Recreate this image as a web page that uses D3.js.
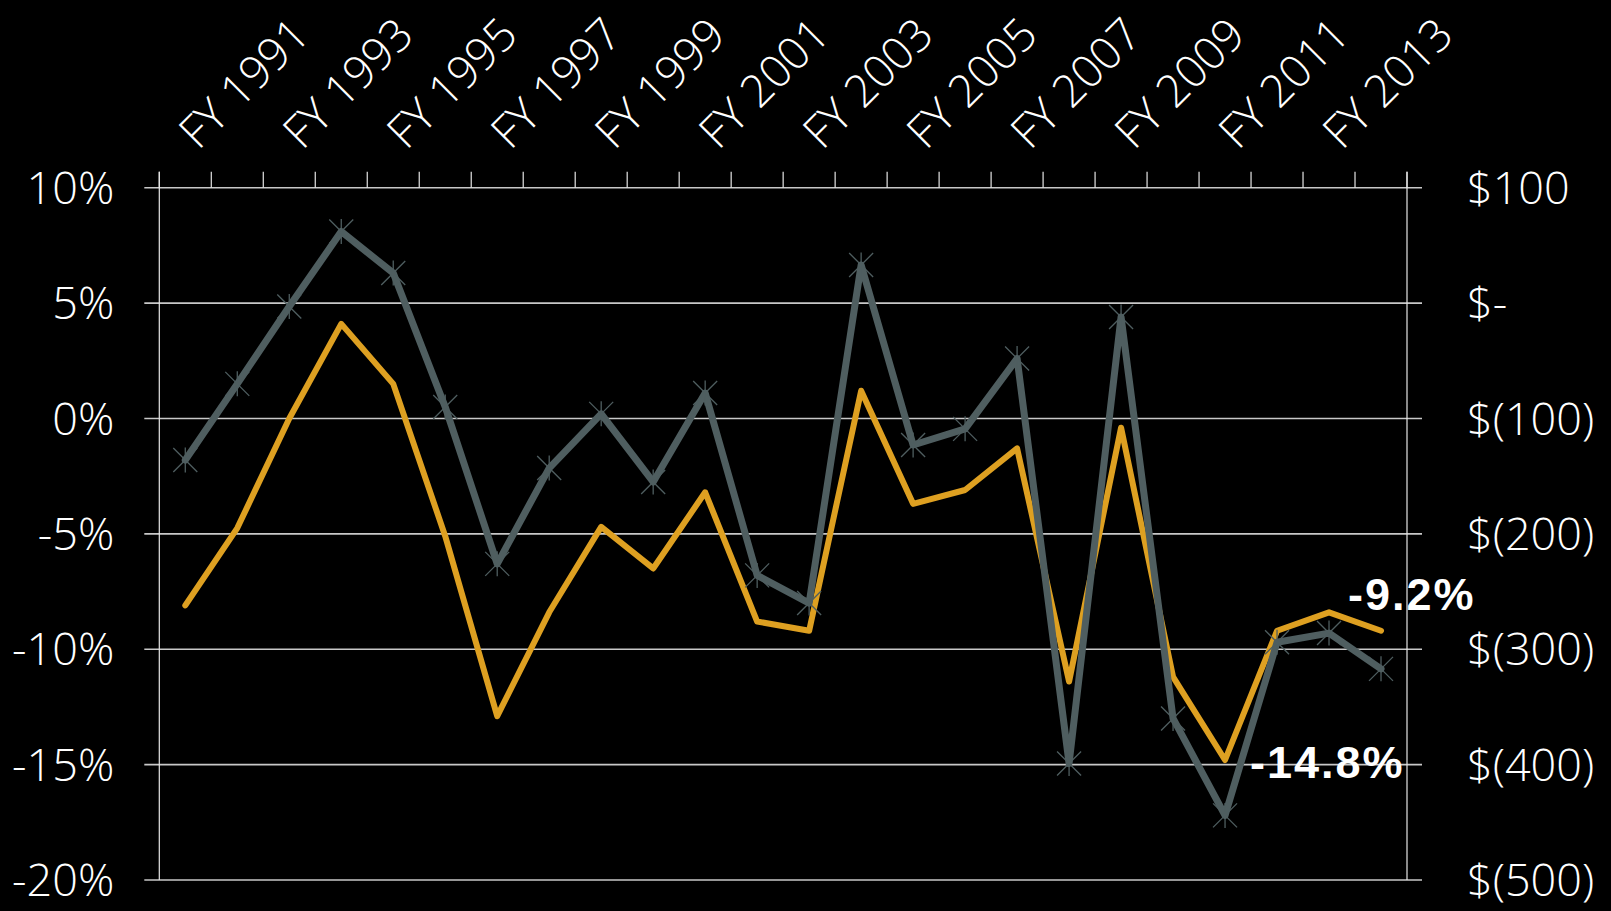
<!DOCTYPE html>
<html>
<head>
<meta charset="utf-8">
<script src="https://cdn.jsdelivr.net/npm/d3@7"></script>
<style>
  html, body { margin: 0; padding: 0; background: #000; }
  svg { display: block; }
</style>
</head>
<body>
<svg id="chart" width="1611" height="911"></svg>
<script>
// Fiscal years on the category axis
const fiscalYears = [
  "FY 1991","FY 1992","FY 1993","FY 1994","FY 1995","FY 1996","FY 1997","FY 1998",
  "FY 1999","FY 2000","FY 2001","FY 2002","FY 2003","FY 2004","FY 2005","FY 2006",
  "FY 2007","FY 2008","FY 2009","FY 2010","FY 2011","FY 2012","FY 2013","FY 2014"
];
// Only every other year is labelled
const yearLabels = ["FY 1991","FY 1993","FY 1995","FY 1997","FY 1999","FY 2001",
                    "FY 2003","FY 2005","FY 2007","FY 2009","FY 2011","FY 2013"];

// Percent series (left axis)
const pctChange = [-8.1, -4.75, 0.0, 4.1, 1.5, -5.1, -12.9, -8.4, -4.7, -6.5, -3.2, -8.8,
                   -9.2, 1.2, -3.7, -3.1, -1.3, -11.4, -0.4, -11.2, -14.8, -9.2, -8.4, -9.2];
// Dollar series (right axis)
const dollarChange = [-136, -70, -3, 62, 26, -90, -226, -143, -96, -155, -78, -236,
                      -260, 33, -123, -109, -48, -399, -12, -360, -444, -294, -286, -317];

const pctTicks = [10, 5, 0, -5, -10, -15, -20];
const dollarTicks = [100, 0, -100, -200, -300, -400, -500];

// Points on the percent line that carry a value label
const calloutIndex = [23, 20];

const svg = d3.select("#chart");
const plot = { left: 159.3, right: 1407, top: 187.7, bottom: 880 };

const x = d3.scaleBand().domain(fiscalYears).range([plot.left, plot.right]).padding(0);
const yPct = d3.scaleLinear().domain([-20, 10]).range([plot.bottom, plot.top]);
const yDol = d3.scaleLinear().domain([-500, 100]).range([plot.bottom, plot.top]);
const cx = d => x(d) + x.bandwidth() / 2;

const labelFont = "'Open Sans', 'Noto Sans', sans-serif";

// Horizontal gridlines (run past both vertical axes as tick marks)
svg.append("g").selectAll("line").data(pctTicks).join("line")
  .attr("x1", plot.left - 15).attr("x2", plot.right + 15)
  .attr("y1", d => yPct(d)).attr("y2", d => yPct(d))
  .attr("stroke", "#c8c8c8").attr("stroke-width", 1.6);

// Vertical axis lines
svg.append("g").selectAll("line").data([plot.left, plot.right]).join("line")
  .attr("x1", d => d).attr("x2", d => d)
  .attr("y1", plot.top - 16).attr("y2", plot.bottom)
  .attr("stroke", "#e6e6e6").attr("stroke-width", 1.2);

// Category boundary ticks above the top axis
const boundaries = fiscalYears.map(d => x(d)).concat([plot.right]);
svg.append("g").selectAll("line").data(boundaries).join("line")
  .attr("x1", d => d).attr("x2", d => d)
  .attr("y1", plot.top - 16).attr("y2", plot.top)
  .attr("stroke", "#e6e6e6").attr("stroke-width", 1.2);

// Left axis labels
const leftAxis = d3.axisLeft(yPct).tickValues(pctTicks).tickFormat(d => d + "%").tickSize(0).tickPadding(0);
const gl = svg.append("g").attr("transform", `translate(${plot.left - 45},0)`).call(leftAxis);
gl.select(".domain").remove();
gl.selectAll("text").attr("fill", "#fff").attr("font-family", labelFont)
  .attr("font-weight", 300).attr("font-size", 45).attr("dy", "0.35em");

// Right axis labels (accounting style)
const fmtDollar = d => d === 0 ? "$-" : d < 0 ? `$(${-d})` : `$${d}`;
const rightAxis = d3.axisRight(yDol).tickValues(dollarTicks).tickFormat(fmtDollar).tickSize(0).tickPadding(0);
const gr = svg.append("g").attr("transform", `translate(${plot.right + 60},0)`).call(rightAxis);
gr.select(".domain").remove();
gr.selectAll("text").attr("fill", "#fff").attr("font-family", labelFont)
  .attr("font-weight", 300).attr("font-size", 45).attr("dy", "0.35em");

// Rotated year labels on top
svg.append("g").selectAll("text").data(yearLabels).join("text")
  .attr("transform", d => `translate(${cx(d) + 13},151) rotate(-45)`)
  .attr("text-anchor", "start")
  .attr("fill", "#fff").attr("font-family", labelFont)
  .attr("font-weight", 300).attr("font-size", 45)
  .text(d => d);

// Percent line
const pctLine = d3.line().x((d, i) => cx(fiscalYears[i])).y(d => yPct(d));
svg.append("path").datum(pctChange).attr("d", pctLine)
  .attr("fill", "none").attr("stroke", "#dea021").attr("stroke-width", 6)
  .attr("stroke-linejoin", "round").attr("stroke-linecap", "round");

// Dollar line
const dolLine = d3.line().x((d, i) => cx(fiscalYears[i])).y(d => yDol(d));
svg.append("path").datum(dollarChange).attr("d", dolLine)
  .attr("fill", "none").attr("stroke", "#4f5e60").attr("stroke-width", 7)
  .attr("stroke-linejoin", "round").attr("stroke-linecap", "round");

// Star markers on the dollar line
const star = "M0,-12.5V12.5M-12,-12L12,12M-12,12L12,-12";
svg.append("g").selectAll("path").data(dollarChange).join("path")
  .attr("transform", (d, i) => `translate(${cx(fiscalYears[i])},${yDol(d)})`)
  .attr("d", star).attr("fill", "none")
  .attr("stroke", "#4f5e60").attr("stroke-width", 1.3);

// Value labels on the percent line
const calloutOffset = { 23: [-33, -21], 20: [25, 18] };
svg.append("g").selectAll("text").data(calloutIndex).join("text")
  .attr("x", i => cx(fiscalYears[i]) + calloutOffset[i][0])
  .attr("y", i => yPct(pctChange[i]) + calloutOffset[i][1])
  .attr("fill", "#fff").attr("font-family", "'Liberation Sans', Arial, sans-serif")
  .attr("font-weight", "bold").attr("font-size", 45).attr("letter-spacing", 2)
  .text(i => pctChange[i].toFixed(1) + "%");
</script>
</body>
</html>
